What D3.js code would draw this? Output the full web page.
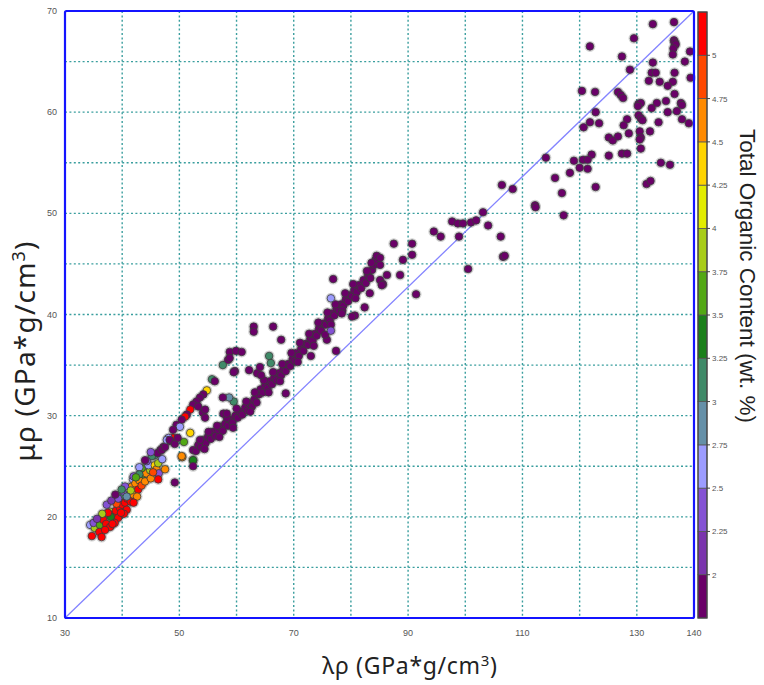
<!DOCTYPE html>
<html><head><meta charset="utf-8">
<script src="https://cdn.jsdelivr.net/npm/d3@7"></script>
<style>body{margin:0;background:#fff}svg{display:block}</style>
</head><body>
<svg id="c" width="764" height="685"></svg>
<script>
// ---- data: [lambdaRho, muRho, TOC] ----
const lowCluster = [
[34.7,18.1,5.1],[34.4,19.2,2.6],[35.2,18.9,3.9],[35.0,19.4,2.3],[36.1,19.2,3.6],[36.7,19.7,5.1],[37.2,19.3,5.1],[37.9,19.0,5.1],
[37.9,20.5,3.9],[38.4,20.2,5.1],[38.9,20.6,5.1],[39.3,19.9,5.1],[38.7,19.4,5.1],[39.6,20.9,5.1],[39.6,22.0,3.1],[40.0,21.2,5.1],
[40.5,21.4,5.1],[40.8,20.7,5.1],[40.9,21.8,5.1],[40.2,22.5,2.35],[41.1,22.8,2.6],[41.7,23.0,4.6],[41.9,23.7,2.6],[41.4,22.2,4.9],
[41.9,22.2,4.6],[42.3,23.3,4.6],[42.8,22.7,5.1],[43.0,23.6,4.6],[43.7,24.2,3.6],[44.2,24.3,4.6],[44.9,24.6,3.9],[43.4,24.8,3.6],
[44.6,25.1,2.6],[45.2,26.0,3.0],[44.3,25.5,2.35],[45.7,25.1,4.35],[46.0,24.7,4.6],[46.3,25.3,3.9],[46.4,24.3,2.35],[47.5,24.7,4.6],
[46.3,23.7,5.1],[42.6,22.0,4.6],[47.0,25.7,2.6],[46.2,26.3,1.8],[46.9,26.6,1.8],[47.5,26.9,1.8],[47.8,27.6,2.6],[48.3,27.6,1.8],
[49.2,27.2,1.8],[49.7,27.8,1.8],[49.2,23.4,1.8],[50.4,26.0,4.6],[52.4,25.6,3.4],[52.4,25.0,1.8],
[36.0,18.5,5.1],[37.0,18.7,5.1],[38.0,20.0,3.4],[37.5,20.4,5.1],[39.0,21.3,4.9],[39.3,21.8,2.35],[40.3,20.3,5.1],[41.5,21.5,5.1],
[42.0,21.4,5.1],[43.4,23.1,4.9],[44.0,23.5,4.6],[45.0,23.8,4.6],[45.4,24.4,4.9],[36.5,20.3,3.9],[37.3,21.2,2.35],[38.1,21.6,2.1],
[38.8,22.2,1.8],[40.5,23.0,2.35],[42.0,24.0,2.35],[43.0,24.9,2.6],[44.0,25.6,1.8],[45.0,26.4,2.35],[43.0,24.2,3.1],[42.4,23.9,3.6],
[41.5,22.6,3.9],[40.8,22.0,2.9],[39.9,22.7,3.1],[35.6,19.8,2.1],[36.4,18.0,5.1],[38.3,19.3,5.1],[39.8,20.4,5.1]
];
const upperBranch = [
[55.7,33.6,3.1],[56.2,33.4,1.8],[54.8,32.5,4.3],[54.2,32.1,1.8],[53.6,31.8,1.8],[53.0,31.4,1.8],[52.4,31.1,1.8],[53.3,30.9,1.8],
[51.9,30.6,5.1],[51.3,30.1,1.8],[51.0,29.9,5.0],[50.4,29.6,1.8],[49.5,29.1,1.8],[50.1,28.9,2.6],[48.9,28.6,1.8],[48.9,27.8,5.0],
[48.1,27.8,2.6],[48.4,27.5,1.8],[47.2,26.9,1.8],[46.7,26.6,1.8],[45.7,26.1,3.0],[54.1,30.3,1.8],[54.5,29.8,1.8],[54.5,30.6,1.8],
[51.9,28.3,4.3],[50.8,27.4,3.6],[50.5,25.9,4.6],[52.4,25.6,3.4],[57.7,30.2,1.8],[58.3,30.2,1.8],
[63.0,38.8,1.8],[63.0,38.3,1.8],[58.8,36.3,1.8],[59.9,36.4,1.8],[60.9,36.3,1.8],[58.5,35.5,1.8],[57.6,35.0,3.1],[59.7,34.4,1.8],
[62.2,34.5,1.8],[63.6,34.2,1.8],[64.3,34.0,1.8],[64.1,34.8,1.8],[58.8,35.7,1.8],[59.5,34.3,1.8],
[59.5,31.4,3.1],[58.7,31.8,2.9],[57.6,31.8,1.8]
];
const mainBand = [
[52.4,26.6],[52.9,26.5],[53.3,27.1],[53.8,26.9],[54.2,27.6],[54.6,27.3],[55.0,27.9],[55.5,27.7],[55.9,28.4],[56.3,28.0],
[56.8,28.6],[57.2,28.9],[57.6,28.5],[58.0,29.2],[58.5,29.0],[58.9,29.6],[59.3,29.3],[59.8,30.0],[60.2,29.8],[60.6,30.4],
[61.0,30.1],[61.5,30.8],[61.9,30.5],[62.3,31.2],[62.7,30.9],[63.1,31.6],[63.5,31.3],[63.9,32.1],[64.2,32.6],[64.6,32.3],
[65.0,33.0],[65.4,32.7],[65.8,33.4],[66.2,33.1],[66.6,33.8],[67.0,33.5],[67.4,34.2],[67.8,34.0],[68.2,34.6],[68.6,34.4],
[69.0,35.1],[69.4,34.9],[69.8,35.6],[70.2,35.4],[70.5,36.2],[70.9,35.9],[71.3,36.6],[71.7,36.4],[72.1,37.1],[72.5,37.0],
[72.9,37.6],[73.3,37.4],[73.7,38.1],[74.0,37.9],[74.4,38.6],[74.8,38.4],[75.2,39.1],[75.6,39.0],[76.0,39.6],[76.3,39.4],
[76.7,40.1],[77.1,39.9],[77.5,40.6],[77.9,40.4],[78.3,41.0],[78.7,40.9],[79.1,41.5],[79.5,41.3],[79.9,41.9],[80.2,41.8],
[80.6,42.4],[81.0,42.2],[81.4,42.9],[81.8,42.6],[82.2,43.4],[82.6,43.1],[83.0,43.9],[83.4,43.6],[83.7,44.4],[84.0,44.9],
[84.3,45.4],[84.5,45.8],[83.6,45.1],[82.8,44.3],[80.4,43.0],[79.0,42.1],[77.3,41.0],[75.9,40.2],[74.3,39.2],[72.7,38.1],
[71.1,37.2],[69.6,36.2],[68.0,35.1],[66.4,34.3],[64.8,33.5],[63.2,32.3],[61.7,31.4],[60.0,30.7],[58.3,29.8],[56.6,29.0],
[55.1,28.4],[53.6,27.6],[80.8,41.6],[78.5,40.4],[76.5,39.0],[73.5,36.9],[70.7,35.3],[67.6,33.4],[65.6,32.3],[62.4,30.4],
[59.4,28.8],[57.0,27.9],[54.4,26.7]
];
const midScatter = [
[76.9,43.5,1.8],[83.3,42.1,1.8],[85.1,43.4,1.8],[85.6,43.0,1.8],[82.4,40.7,1.8],[80.7,39.9,1.8],[80.2,39.8,1.8],[78.4,40.1,1.8],
[75.8,37.5,1.8],[75.5,38.0,1.8],[77.4,36.4,1.8],[66.4,38.8,1.8],[67.8,37.5,1.8],[73.0,35.9,1.8],[68.6,32.2,1.8],[86.3,43.9,1.8],
[85.1,45.6,1.8],[85.1,44.9,1.8],[85.4,42.9,1.8],[88.6,43.9,1.8],[87.5,47.0,1.8],[90.7,47.0,1.8],[90.7,45.9,1.8],[89.1,45.4,1.8],
[91.4,42.0,1.8],[76.5,41.6,2.6],[76.5,38.4,2.3],[65.7,35.9,3.1],[66.0,35.2,3.1]
];
const highScatter = [
[132.8,68.7],[136.5,68.9],[129.5,67.3],[121.8,66.5],[136.5,67.1],[136.6,66.9],[136.8,66.7],[136.4,66.3],[136.3,65.7],[139.3,66.0],
[127.4,65.5],[138.4,65.0],[132.8,64.9],[128.8,64.2],[132.6,63.9],[133.3,63.9],[136.6,63.9],[139.4,63.4],[132.1,63.1],[134.0,63.0],
[136.3,63.0],[135.4,62.6],[120.4,62.1],[122.7,62.0],[126.7,62.0],[127.2,61.7],[127.6,61.4],[136.6,61.8],[135.1,61.1],[133.5,60.9],
[132.6,60.4],[130.3,60.8],[130.7,60.9],[130.2,60.6],[137.7,60.9],[137.9,60.7],[122.8,60.0],[135.4,60.0],[137.0,60.1],[130.3,59.7],
[130.7,59.4],[131.0,59.2],[128.3,59.3],[121.8,59.0],[123.4,58.9],[120.7,58.5],[127.7,58.7],[133.8,59.0],[137.9,59.3],[139.1,58.9],
[128.6,57.9],[130.5,58.1],[132.3,58.1],[125.1,57.5],[125.8,57.2],[126.7,57.6],[130.7,57.5],[130.5,57.3],[130.7,56.4],[125.1,55.7],
[127.4,55.9],[128.3,55.9],[122.1,55.8],[134.2,55.0],[135.8,54.8],[119.0,55.2],[120.6,55.3],[121.4,55.3],[120.0,54.5],[121.4,54.4],
[118.3,54.0],[114.1,55.5],[115.7,53.5],[122.8,52.6],[116.9,52.0],[131.7,52.9],[132.4,53.2],[117.2,49.8],[112.2,50.8],[112.3,50.6],
[106.4,52.8],[108.3,52.4],[103.1,50.1],[104.0,48.8],[106.2,47.7],[106.6,45.7],[106.9,45.8],[100.5,44.5],[98.9,47.7],[97.7,49.2],
[98.7,49.0],[99.6,49.0],[101.0,49.1],[101.9,49.3],[94.5,48.2],[95.7,47.7]
];
const xTickLabels = [30,50,70,90,110,130,140];
const yTickLabels = [10,20,30,40,50,60,70];
const xGrid = [40,50,60,70,80,90,100,110,120,130];
const yGrid = [15,20,25,30,35,40,45,50,55,60,65];
const tocBreaks = [2,2.25,2.5,2.75,3,3.25,3.5,3.75,4,4.25,4.5,4.75,5];
const tocColors = ["#6a0068","#7a34ad","#8452d4","#9c9cff","#6590a8","#3f8a68","#1a801a","#52a814","#a8cc18","#e2ec00","#ffd400","#ff8a00","#ff4800","#ff0000"];
const tocDomain = [1.75,5.25];
const defaultTOC = 1.8;

// ---- drawing ----
const svg = d3.select("#c");
const L=65,R=694,T=11,B=618;
const x = d3.scaleLinear().domain([30,140]).range([L,R]);
const y = d3.scaleLinear().domain([10,70]).range([B,T]);
const color = d3.scaleThreshold().domain(tocBreaks).range(tocColors);
const font = "'Liberation Sans', Arial, sans-serif";

const grid = svg.append("g").attr("stroke","#3a9e9e").attr("stroke-width",1.4).attr("stroke-dasharray","2,2.4");
grid.selectAll("line.v").data(xGrid).join("line").attr("class","v")
  .attr("x1",d=>x(d)).attr("x2",d=>x(d)).attr("y1",T).attr("y2",B);
grid.selectAll("line.h").data(yGrid).join("line").attr("class","h")
  .attr("x1",L).attr("x2",R).attr("y1",d=>y(d)).attr("y2",d=>y(d));

svg.append("line").attr("x1",x(30)).attr("y1",y(10)).attr("x2",x(140)).attr("y2",y(70))
  .attr("stroke","#8484ff").attr("stroke-width",1.3);

const pts = [].concat(
  mainBand.map(d=>[d[0],d[1],defaultTOC]),
  highScatter.map(d=>[d[0],d[1],defaultTOC]),
  midScatter, upperBranch, lowCluster);
const pg = svg.append("g");
pg.selectAll("circle.h").data(pts).join("circle").attr("class","h")
  .attr("cx",d=>x(d[0])).attr("cy",d=>y(d[1])).attr("r",4.7)
  .attr("fill","none").attr("stroke","rgba(0,0,0,0.18)").attr("stroke-width",1.6);
pg.selectAll("circle.p").data(pts).join("circle").attr("class","p")
  .attr("cx",d=>x(d[0])).attr("cy",d=>y(d[1])).attr("r",3.8)
  .attr("fill",d=>color(d[2])).attr("stroke","#3a3a3a").attr("stroke-width",0.8);

svg.append("rect").attr("x",L).attr("y",T).attr("width",R-L).attr("height",B-T)
  .attr("fill","none").attr("stroke","#1414ff").attr("stroke-width",2.2).attr("rx",1.5);

// tick labels
svg.append("g").selectAll("text").data(xTickLabels).join("text")
  .attr("x",d=>x(d)).attr("y",636).attr("text-anchor","middle")
  .attr("font-family",font).attr("font-size",9).attr("fill","#555").text(d=>d);
svg.append("g").selectAll("text").data(yTickLabels).join("text")
  .attr("x",57).attr("y",d=>y(d)+3).attr("text-anchor","end")
  .attr("font-family",font).attr("font-size",9).attr("fill","#555").text(d=>d);

// colorbar
const cbX=698, cbW=9;
const cy = d3.scaleLinear().domain(tocDomain).range([618,12]);
const segs = tocColors.map((c,i)=>[tocDomain[0]+i*0.25, tocDomain[0]+(i+1)*0.25, c]);
svg.append("g").selectAll("rect").data(segs).join("rect")
  .attr("x",cbX).attr("width",cbW).attr("y",d=>cy(d[1])).attr("height",d=>cy(d[0])-cy(d[1]))
  .attr("fill",d=>d[2]).attr("stroke","#555").attr("stroke-width",0.8);
svg.append("rect").attr("x",cbX).attr("y",12).attr("width",cbW).attr("height",606)
  .attr("fill","none").attr("stroke","#444").attr("stroke-width",1.2);
const cbt = svg.append("g");
cbt.selectAll("line").data(tocBreaks).join("line")
  .attr("x1",cbX+cbW).attr("x2",cbX+cbW+3).attr("y1",d=>cy(d)).attr("y2",d=>cy(d))
  .attr("stroke","#444").attr("stroke-width",1);
cbt.selectAll("text").data(tocBreaks).join("text")
  .attr("x",cbX+cbW+5).attr("y",d=>cy(d)+3).attr("font-family",font).attr("font-size",8)
  .attr("fill","#555").text(d=>d);

// axis titles
const tf = "'Noto Sans', 'Open Sans', sans-serif";
const xt = svg.append("text").attr("x",410).attr("y",674).attr("text-anchor","middle")
  .attr("font-family",tf).attr("font-size",23).attr("letter-spacing",0.7).attr("fill","#222");
xt.append("tspan").text("λρ (GPa*g/cm");
xt.append("tspan").attr("dy",-8).attr("font-size",15).text("3");
xt.append("tspan").attr("dy",8).text(")");

const yt = svg.append("text").attr("transform","translate(35,351) rotate(-90)").attr("text-anchor","middle")
  .attr("font-family",tf).attr("font-size",28).attr("letter-spacing",1.2).attr("fill","#222");
yt.append("tspan").text("μρ (GPa*g/cm");
yt.append("tspan").attr("dy",-10).attr("font-size",18).text("3");
yt.append("tspan").attr("dy",10).text(")");

svg.append("text").attr("transform","translate(740,276) rotate(90)").attr("text-anchor","middle")
  .attr("font-family","'Liberation Sans', Arial, sans-serif").attr("font-size",22.5).attr("fill","#222")
  .text("Total Organic Content (wt. %)");
</script>
</body></html>
